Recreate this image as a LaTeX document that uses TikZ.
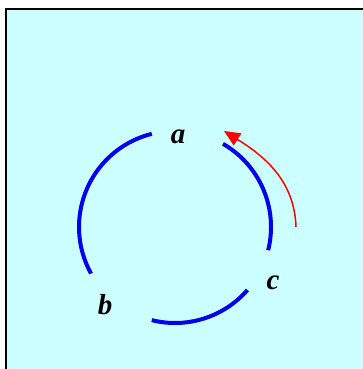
\documentclass[tikz,border=0pt]{standalone}
\usepackage{fontspec}
\setmainfont{Liberation Serif}
\usetikzlibrary{arrows.meta,calc}
\definecolor{bgcyan}{RGB}{204,255,255}
\definecolor{arcblue}{RGB}{0,0,238}
\begin{document}
\begin{tikzpicture}[x=1pt,y=1pt,
  lbl/.style={font=\fontsize{29}{32}\selectfont\bfseries\itshape, inner sep=0pt},
  cyc/.style={draw=arcblue, line width=4pt},
  rot/.style={draw=red, line width=1.5pt, -{Triangle[length=16pt,width=14pt]}}]
  \clip (0,0) rectangle (363,369);
  \fill[white] (0,0) rectangle (363,369);
  \draw[fill=bgcyan, line width=1.8pt] (6,360) rectangle (380,-20);
  \coordinate (O) at (175,142);
  \draw[cyc] ($(O)+(104:96)$) arc[start angle=104, end angle=209, radius=96];
  \draw[cyc] ($(O)+(256:96)$) arc[start angle=256, end angle=319, radius=96];
  \draw[cyc] ($(O)+(-14:96)$) arc[start angle=-14, end angle=60, radius=96];
  \node[lbl] (a) at (178,232) {a};
  \node[lbl] (b) at (105,64) {b};
  \node[lbl] (c) at (273,86) {c};
  \coordinate (rs) at (296,142);
  \coordinate (re) at (224,238);
  \draw[rot] (rs) to[out=92, in=-32] (re);
\end{tikzpicture}
\end{document}
